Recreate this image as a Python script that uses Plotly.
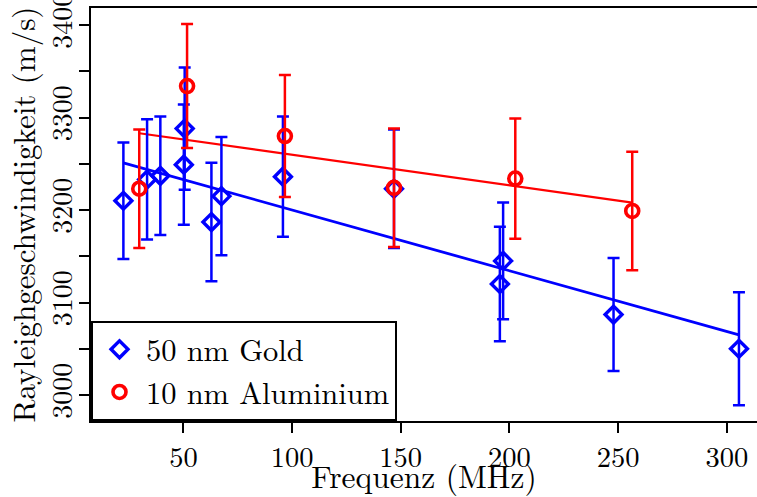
import plotly.graph_objects as go

# Data
gold_f = [22.4, 33.3, 39.4, 50.6, 50.2, 62.9, 67.5, 95.8, 146.9, 197.1, 195.6, 247.9, 305.6]
gold_v = [3210, 3233, 3237, 3288, 3249, 3187, 3215, 3236, 3223, 3145, 3120, 3087, 3050]
gold_err = [63, 65, 64, 66, 65, 64, 64, 65, 64, 63, 62, 61, 61]

alu_f = [29.7, 51.7, 96.7, 146.9, 202.7, 256.5]
alu_v = [3223, 3334, 3280, 3224, 3234, 3199]
alu_err = [64, 67, 66, 64, 65, 64]

gold_fit_f = [22.4, 305.6]
gold_fit_v = [3251, 3065]
alu_fit_f = [29.7, 256.5]
alu_fit_v = [3283, 3208]

y_tickvals = [3000, 3050, 3100, 3150, 3200, 3250, 3300, 3350, 3400]
y_ticktext = ["3000", "", "3100", "", "3200", "", "3300", "", "3400"]
x_tickvals = [50, 100, 150, 200, 250, 300]

BLUE = "#0000ff"
RED = "#ff0000"
FONT = "Latin Modern Roman"

fig = go.Figure()

fig.add_trace(go.Scatter(x=gold_fit_f, y=gold_fit_v, mode="lines",
                         line=dict(color=BLUE, width=2.8), showlegend=False))
fig.add_trace(go.Scatter(x=alu_fit_f, y=alu_fit_v, mode="lines",
                         line=dict(color=RED, width=2.2), showlegend=False))

fig.add_trace(go.Scatter(
    x=gold_f, y=gold_v, mode="markers", name="50 nm Gold",
    marker=dict(symbol="diamond-open", size=13, color=BLUE, line=dict(width=3.4, color=BLUE)),
    error_y=dict(type="data", array=gold_err, visible=True, color=BLUE, thickness=2.5, width=6),
))
fig.add_trace(go.Scatter(
    x=alu_f, y=alu_v, mode="markers", name="10 nm Aluminium",
    marker=dict(symbol="circle-open", size=13, color=RED, line=dict(width=3.6, color=RED)),
    error_y=dict(type="data", array=alu_err, visible=True, color=RED, thickness=2.5, width=6),
))

fig.update_layout(
    width=757, height=497,
    margin=dict(l=91, r=0, t=8, b=76),
    plot_bgcolor="white", paper_bgcolor="white",
    font=dict(family=FONT, size=29, color="black"),
    showlegend=True,
    legend=dict(x=0, y=0, xanchor="left", yanchor="bottom",
                bgcolor="white", bordercolor="black", borderwidth=2,
                font=dict(family=FONT, size=30.5, color="black"),
                tracegroupgap=0, itemwidth=43),
)

fig.update_xaxes(
    range=[7.5, 313.9], tickvals=x_tickvals, ticks="outside", ticklen=10, tickwidth=2,
    tickcolor="black", showline=True, linecolor="black", linewidth=2, mirror=True,
    showgrid=False, zeroline=False, tickfont=dict(family=FONT, size=28.5),
    automargin=False,
    title=dict(text="Frequenz (MHz)", font=dict(family=FONT, size=31.5), standoff=11),
)
fig.update_yaxes(
    range=[2971.9, 3418.4], tickvals=y_tickvals, ticktext=y_ticktext, tickangle=-90,
    ticks="outside", ticklen=10, tickwidth=2, tickcolor="black",
    showline=True, linecolor="black", linewidth=2, mirror=False,
    showgrid=False, zeroline=False, tickfont=dict(family=FONT, size=28),
    ticklabelstandoff=-4, ticklabeloverflow="allow", automargin=False,
    title=dict(text="Rayleighgeschwindigkeit (m/s)", font=dict(family=FONT, size=31), standoff=4),
)

fig.write_html("out.html")
